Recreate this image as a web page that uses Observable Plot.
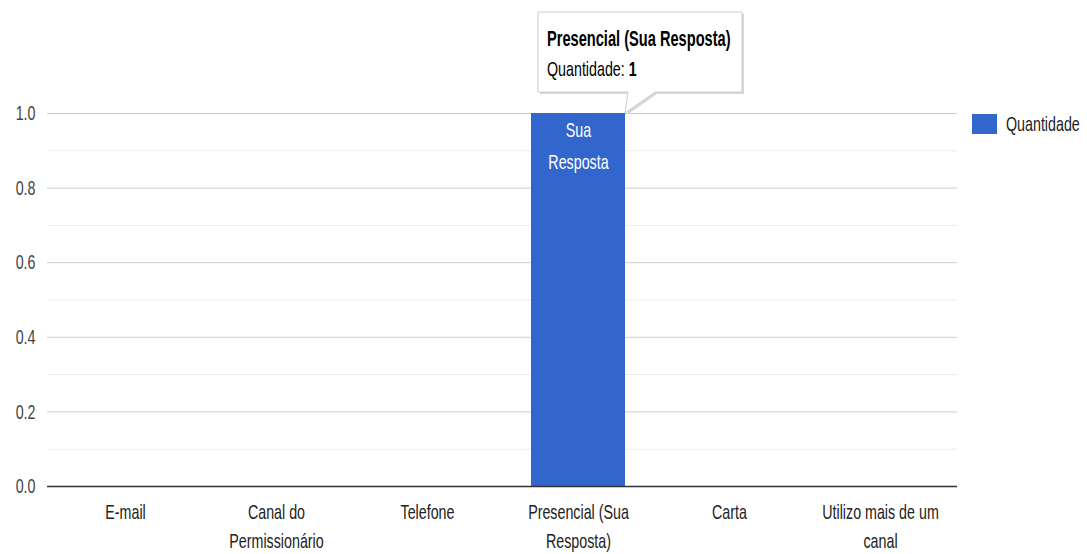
<!DOCTYPE html>
<html>
<head>
<meta charset="utf-8">
<script src="https://cdn.jsdelivr.net/npm/d3@7"></script>
<script src="https://cdn.jsdelivr.net/npm/@observablehq/plot@0.6"></script>
<style>
  html, body { margin: 0; padding: 0; background: #fff; }
  #chart svg { font-family: "Liberation Sans", Arial, sans-serif; }
</style>
</head>
<body>
<div id="chart"></div>
<script>
const categories = ["E-mail", "Canal do Permissionário", "Telefone", "Presencial (Sua Resposta)", "Carta", "Utilizo mais de um canal"];
const tickLabels = ["E-mail", "Canal do\nPermissionário", "Telefone", "Presencial (Sua\nResposta)", "Carta", "Utilizo mais de um\ncanal"];
const values = [0, 0, 0, 1, 0, 0];
const barLabels = ["", "", "", "Sua\nResposta", "", ""];
const seriesName = "Quantidade";
const yTicks = [0, 0.2, 0.4, 0.6, 0.8, 1.0];
const yMinorTicks = [0.1, 0.3, 0.5, 0.7, 0.9];
const tooltipTitle = "Presencial (Sua Resposta)";
const tooltipValue = 1;
const barColor = "#3366cc";

const data = categories.map((c, i) => ({cat: c, value: values[i], label: barLabels[i], tick: tickLabels[i]}));

const plot = Plot.plot({
  width: 1087,
  height: 554,
  marginLeft: 47,
  marginRight: 130,
  marginTop: 113,
  marginBottom: 68,
  style: {fontSize: "21px", color: "#444", background: "#fff", overflow: "visible"},
  x: {domain: categories, paddingInner: 0.38, paddingOuter: 0.19},
  y: {domain: [0, 1]},
  marks: [
    Plot.ruleY(yMinorTicks, {stroke: "#ebebeb", strokeOpacity: 1}),
    Plot.ruleY(yTicks.slice(1), {stroke: "#cccccc", strokeOpacity: 1}),
    Plot.barY(data, {x: "cat", y: "value", fill: barColor}),
    Plot.ruleY([0], {stroke: "#333", strokeWidth: 1.5}),
    Plot.text(data.filter(d => d.label), {x: "cat", y: "value", text: "label", fill: "white", lineAnchor: "top", dy: 1, lineHeight: 1.52, fontSize: 21}),
    Plot.axisY({ticks: yTicks, tickFormat: d3.format(".1f"), tickSize: 0, tickPadding: 12, label: null, fill: "#444"}),
    Plot.axisX({tickSize: 0, tickPadding: 12, tickFormat: d => tickLabels[categories.indexOf(d)], lineHeight: 1.38, label: null, fill: "#222"})
  ]
});

document.getElementById("chart").appendChild(plot);

const svg = d3.select(plot);
const xs = plot.scale("x");
const ys = plot.scale("y");

// legend
const right = 1087 - 130;
const lg = svg.append("g");
lg.append("rect").attr("x", right + 15).attr("y", ys.apply(1) + 1).attr("width", 25).attr("height", 20).attr("fill", barColor);
lg.append("text").attr("transform", `translate(${right + 49},${ys.apply(1) + 11})`).attr("text-anchor", "start").attr("dy", "0.35em").attr("fill", "#222").style("font-size", "21px").text(seriesName);

// tooltip
const idx = categories.indexOf("Presencial (Sua Resposta)");
const px = xs.apply(categories[idx]) + xs.bandwidth;
const py = ys.apply(values[idx]);
const L = px - 87, R = px + 117, T = py - 101, B = py - 21;
const pathD = `M${L},${T}H${R}V${B}H${px + 30}L${px},${py}L${px + 3},${B}H${L}Z`;
const tg = svg.append("g");
tg.append("path").attr("d", pathD).attr("transform", "translate(2,2)").attr("fill", "#d8d8d8");
tg.append("path").attr("d", pathD).attr("fill", "#fff").attr("stroke", "#cccccc");
tg.append("text").attr("transform", `translate(${L + 9},${T + 34})`).attr("text-anchor", "start").attr("fill", "#000").style("font-size", "21.5px").style("font-weight", "bold").text(tooltipTitle);
const t2 = tg.append("text").attr("transform", `translate(${L + 9},${T + 64})`).attr("text-anchor", "start").attr("fill", "#000").style("font-size", "21px");
t2.append("tspan").text(seriesName + ": ");
t2.append("tspan").style("font-weight", "bold").text(tooltipValue);

// horizontally condensed lettering, as in the reference
svg.selectAll("text").each(function () {
  const t = this.getAttribute("transform");
  if (t) this.setAttribute("transform", t + " scale(0.68,1)");
});
</script>
</body>
</html>
